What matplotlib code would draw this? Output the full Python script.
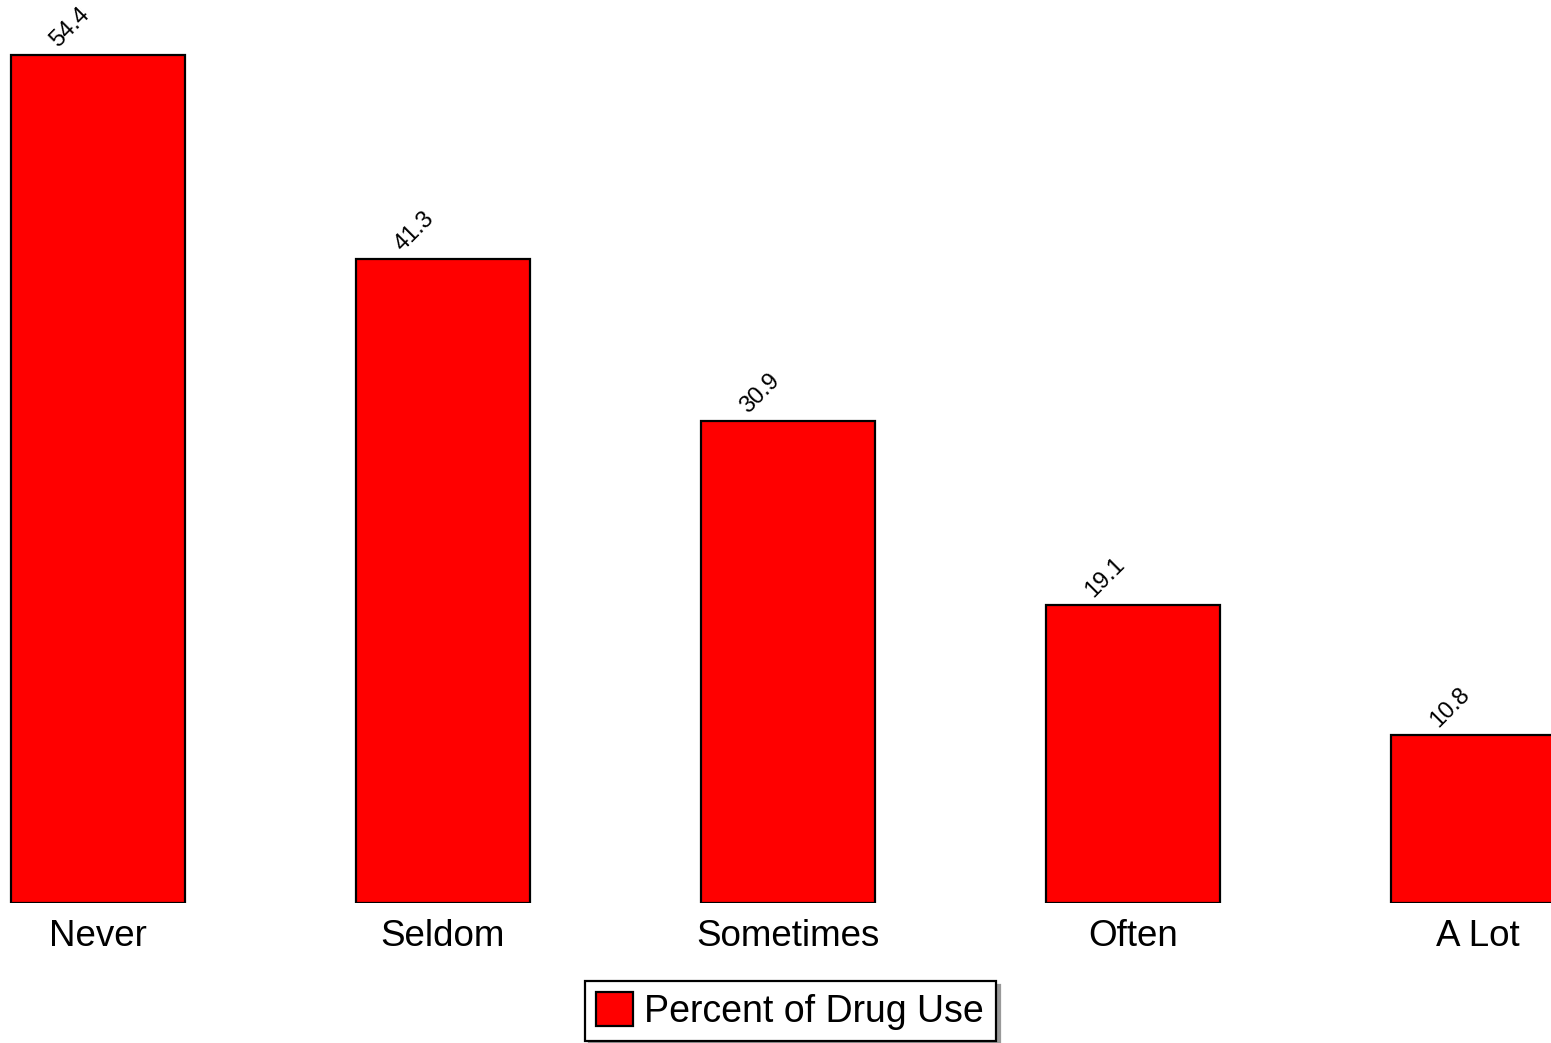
import matplotlib
matplotlib.use("Agg")
import matplotlib.pyplot as plt

categories = ["Never", "Seldom", "Sometimes", "Often", "A Lot"]
values = [54.4, 41.3, 30.9, 19.1, 10.8]
series_name = "Percent of Drug Use"

plt.rcParams["font.family"] = ["Liberation Sans", "DejaVu Sans"]

W, H, DPI = 1551, 1043, 100
fig = plt.figure(figsize=(W / DPI, H / DPI), dpi=DPI)
fig.patch.set_facecolor("white")

# plot area spans the full width; baseline sits 140 px above the bottom edge
ax = fig.add_axes([0, 140 / H, 1, 903 / H])
ax.set_xlim(-0.284, 4.212)
ax.set_ylim(0, 57.92)

x = list(range(len(categories)))
bars = ax.bar(x, values, width=0.503, color="#ff0000", edgecolor="black",
              linewidth=1.6, label=series_name, clip_on=True)

for xi, v in zip(x, values):
    ax.annotate(f"{v}", xy=(xi, v), xytext=(-40, 7), textcoords="offset pixels",
                rotation=45, rotation_mode="anchor", ha="left", va="baseline",
                fontsize=17, color="black", annotation_clip=False)

for xi, c in zip(x, categories):
    ax.annotate(c, xy=(xi, 0), xytext=(0, -16), textcoords="offset pixels",
                ha="center", va="top", fontsize=26.5, color="black",
                annotation_clip=False)

ax.set_axis_off()

leg = fig.legend(handles=[bars], labels=[series_name], loc="upper center",
                 bbox_to_anchor=(790 / W, 1 - 981 / H), fontsize=27,
                 frameon=True, fancybox=False, edgecolor="black",
                 framealpha=1, borderpad=0.3, handlelength=1.0,
                 handleheight=1.0, handletextpad=0.3, borderaxespad=0,
                 shadow={"ox": 3, "oy": -3, "color": "#999999", "alpha": 1})
leg.get_frame().set_linewidth(1.6)

fig.savefig("out.png", dpi=DPI, facecolor="white")
